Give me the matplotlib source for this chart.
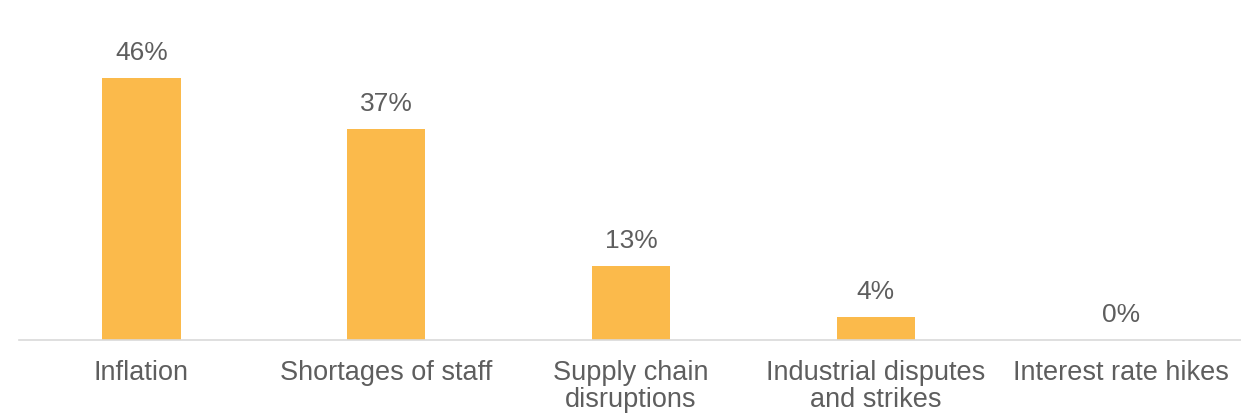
import matplotlib
matplotlib.use("Agg")
import matplotlib.pyplot as plt

categories = ["Inflation", "Shortages of staff", "Supply chain\ndisruptions",
              "Industrial disputes\nand strikes", "Interest rate hikes"]
values = [46, 37, 13, 4, 0]

plt.rcParams["font.family"] = ["Liberation Sans", "DejaVu Sans"]

fig = plt.figure(figsize=(12.41, 4.16), dpi=100)
ax = fig.add_axes([19 / 1241, 76 / 416, 1224 / 1241, 284.8 / 416])

bar_color = "#FBBA4B"
text_color = "#5E5E5E"
x = list(range(len(categories)))
ax.bar(x, values, width=0.32, color=bar_color, zorder=2)

for xi, v in zip(x, values):
    ax.annotate(f"{v}%", xy=(xi, v), xytext=(0, 13), textcoords="offset points",
                ha="center", va="baseline", fontsize=19, color=text_color)

ax.set_xlim(-0.5, len(categories) - 0.5)
ax.set_ylim(0, 50)
ax.set_xticks(x)
ax.set_xticklabels(categories, fontsize=19.5, color=text_color, linespacing=1.06)
ax.tick_params(axis="x", length=0, pad=14.5)
ax.set_yticks([])
for side in ["top", "right", "left"]:
    ax.spines[side].set_visible(False)
ax.spines["bottom"].set_color("#D9D9D9")
ax.spines["bottom"].set_linewidth(1.2)

fig.savefig("out.png", dpi=100, facecolor="white")
